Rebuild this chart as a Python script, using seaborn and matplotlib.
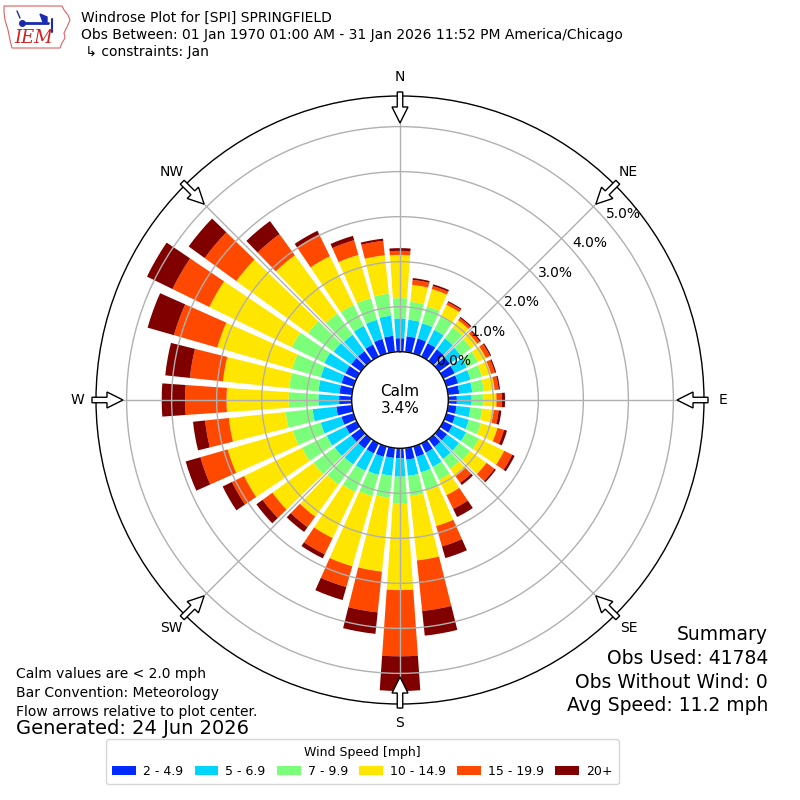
import numpy as np
import matplotlib
matplotlib.use("Agg")
import matplotlib.pyplot as plt
from matplotlib.patches import FancyArrow, Polygon
from matplotlib.lines import Line2D
import seaborn as sns

# %% DATA (percent of observations, read off the windrose)
directions = [0, 10, 20, 30, 40, 50, 60, 70, 80, 90, 100, 110,
              120, 130, 140, 150, 160, 170, 180, 190, 200, 210, 220, 230,
              240, 250, 260, 270, 280, 290, 300, 310, 320, 330, 340, 350]

spd_2_5 = [0.30, 0.35, 0.35, 0.33, 0.32, 0.30, 0.28, 0.27, 0.25, 0.19, 0.19, 0.20,
           0.22, 0.22, 0.22, 0.23, 0.24, 0.26, 0.22, 0.22, 0.24, 0.25, 0.26, 0.27,
           0.27, 0.28, 0.35, 0.28, 0.28, 0.28, 0.28, 0.27, 0.27, 0.30, 0.34, 0.36]
spd_5_7 = [0.44, 0.37, 0.35, 0.33, 0.30, 0.30, 0.30, 0.29, 0.29, 0.33, 0.31, 0.32,
           0.34, 0.33, 0.33, 0.35, 0.36, 0.36, 0.41, 0.40, 0.42, 0.43, 0.44, 0.45,
           0.47, 0.48, 0.53, 0.46, 0.47, 0.48, 0.52, 0.48, 0.45, 0.46, 0.44, 0.45]
spd_7_10 = [0.45, 0.40, 0.39, 0.34, 0.30, 0.28, 0.27, 0.26, 0.26, 0.26, 0.26, 0.28,
            0.32, 0.30, 0.27, 0.32, 0.42, 0.45, 0.59, 0.49, 0.49, 0.52, 0.55, 0.58,
            0.61, 0.64, 0.60, 0.66, 0.65, 0.66, 0.80, 0.70, 0.58, 0.52, 0.50, 0.49]
spd_10_15 = [0.96, 0.38, 0.40, 0.28, 0.20, 0.17, 0.20, 0.21, 0.24, 0.29, 0.26, 0.38,
             0.62, 0.45, 0.20, 0.38, 0.82, 1.44, 1.93, 1.65, 1.62, 1.14, 0.88, 1.13,
             1.43, 1.51, 1.27, 1.38, 1.48, 1.73, 2.04, 1.97, 1.60, 1.20, 1.00, 0.86]
spd_15_20 = [0.09, 0.11, 0.07, 0.06, 0.06, 0.07, 0.10, 0.09, 0.09, 0.12, 0.11, 0.15,
             0.20, 0.22, 0.18, 0.34, 0.47, 1.13, 1.47, 0.91, 0.48, 0.40, 0.29, 0.27,
             0.30, 0.63, 0.53, 0.92, 0.74, 1.00, 0.91, 0.87, 0.58, 0.54, 0.34, 0.32]
spd_20p = [0.06, 0.04, 0.04, 0.03, 0.03, 0.03, 0.03, 0.03, 0.03, 0.07, 0.06, 0.07,
           0.06, 0.04, 0.06, 0.20, 0.27, 0.55, 0.77, 0.48, 0.30, 0.10, 0.13, 0.17,
           0.23, 0.34, 0.27, 0.52, 0.55, 0.61, 0.63, 0.44, 0.36, 0.09, 0.10, 0.05]

bin_labels = ["2 - 4.9", "5 - 6.9", "7 - 9.9", "10 - 14.9", "15 - 19.9", "20+"]
ring_values = [0, 1, 2, 3, 4, 5]
compass = ["N", "NE", "E", "SE", "S", "SW", "W", "NW"]
compass_deg = [0, 45, 90, 135, 180, 225, 270, 315]

calm_pct = 3.4
obs_used = 41784
obs_without_wind = 0
avg_speed = 11.2

# %% STYLE
sns.set_style("white")
plt.rcParams["font.family"] = ["DejaVu Sans"]
plt.rcParams["text.color"] = "black"
bin_colors = sns.color_palette(["#002aff", "#00d4ff", "#7bff7b",
                                "#ffe600", "#ff4800", "#800000"])

fig = plt.figure(figsize=(8, 8), dpi=100)
ax = fig.add_axes([0.12, 0.12, 0.76, 0.76], projection="polar")
ax.set_theta_zero_location("N")
ax.set_theta_direction(-1)
ax.set_rorigin(-1.073)
ax.set_ylim(0, 5.68)
ax.set_axisbelow("line")

# %% stacked bars
theta = np.radians(directions)
series = [spd_2_5, spd_5_7, spd_7_10, spd_10_15, spd_15_20, spd_20p]
bottom = np.zeros(len(directions))
handles = []
for vals, col, lab in zip(series, bin_colors, bin_labels):
    bars = ax.bar(theta, vals, bottom=bottom, width=np.radians(8),
                  color=col, edgecolor="none", label=lab, zorder=1)
    handles.append(bars)
    bottom = bottom + np.array(vals)

ax.set_xticks(np.radians(compass_deg))
ax.set_xticklabels([])
ax.set_yticks(ring_values)
ax.set_yticklabels([])
ax.grid(True, color="#b0b0b0", linewidth=1)
ax.spines["polar"].set_color("black")
ax.spines["polar"].set_linewidth(1)
ax.spines["inner"].set_color("black")
ax.spines["inner"].set_linewidth(1)
ax.tick_params(length=0)

for rv in ring_values:
    ax.text(np.radians(49), rv, "%.1f%%" % rv, ha="left", va="bottom",
            fontsize=10, zorder=5)

ax.text(0.5, 0.5, "Calm\n%.1f%%" % calm_pct, transform=ax.transAxes,
        ha="center", va="center", fontsize=11)

# %% compass labels and flow arrows
for lab, deg in zip(compass, compass_deg):
    s, c = np.sin(np.radians(deg)), np.cos(np.radians(deg))
    fig.text(0.5 + 323 * s / 800, 0.5 + 323 * c / 800, lab,
             ha="center", va="center", fontsize=10)
    arr = FancyArrow(0.5 + 308 * s / 800, 0.5 + 308 * c / 800,
                     -31 * s / 800, -31 * c / 800,
                     width=5.5 / 800, head_width=16 / 800, head_length=16 / 800,
                     length_includes_head=True, transform=fig.transFigure,
                     facecolor="white", edgecolor="black", linewidth=1, zorder=3)
    fig.add_artist(arr)

# %% header with logo (rough IEM mark)
iowa_px = [(4, 6), (62, 6), (64, 10), (68, 15), (70, 20), (67, 27), (64, 33),
           (65, 38), (62, 43), (60, 48), (12, 48), (10, 40), (8, 30), (5, 20),
           (4, 12)]
logo = Polygon([(x / 800, 1 - y / 800) for x, y in iowa_px], closed=True,
               transform=fig.transFigure, facecolor="white",
               edgecolor="#e06060", linewidth=0.8)
fig.add_artist(logo)
fig.add_artist(Line2D([22 / 800, 48 / 800], [1 - 23 / 800, 1 - 23 / 800],
                      color="#1a2ab0", linewidth=2, transform=fig.transFigure))
fig.add_artist(Line2D([22 / 800], [1 - 23 / 800], marker="o", markersize=4,
                      color="#1a2ab0", transform=fig.transFigure))
fig.add_artist(Polygon([(40 / 800, 1 - 14 / 800), (47 / 800, 1 - 17 / 800),
                        (47 / 800, 1 - 22 / 800), (43 / 800, 1 - 22 / 800)],
                       closed=True, facecolor="#1a2ab0", edgecolor="#1a2ab0",
                       transform=fig.transFigure))
fig.add_artist(Line2D([52 / 800, 52 / 800], [1 - 19 / 800, 1 - 32 / 800],
                      color="#1a2ab0", linewidth=1.5, transform=fig.transFigure))
fig.add_artist(Line2D([17 / 800, 20 / 800], [1 - 11 / 800, 1 - 18 / 800],
                      color="#1a2ab0", linewidth=1, transform=fig.transFigure))
fig.text(14 / 800, 1 - 38 / 800, "IEM", color="#d02020", fontsize=13,
         family="serif", style="italic", ha="left", va="center")

fig.text(0.101, 0.986,
         "Windrose Plot for [SPI] SPRINGFIELD\n"
         "Obs Between: 01 Jan 1970 01:00 AM - 31 Jan 2026 11:52 PM America/Chicago\n"
         " \u21b3 constraints: Jan",
         ha="left", va="top", fontsize=10, linespacing=1.25)

# %% footer texts
summary_lines = ["Summary", "Obs Used: %d" % obs_used,
                 "Obs Without Wind: %d" % obs_without_wind,
                 "Avg Speed: %.1f mph" % avg_speed]
for i, line in enumerate(summary_lines):
    fig.text(0.96, 1 - (635 + 23.5 * i) / 800, line, ha="right", va="center",
             fontsize=13.5)

note_lines = ["Calm values are < 2.0 mph", "Bar Convention: Meteorology",
              "Flow arrows relative to plot center."]
for i, line in enumerate(note_lines):
    fig.text(0.02, 1 - (674 + 19 * i) / 800, line, ha="left", va="center",
             fontsize=10)
fig.text(0.02, 1 - 729 / 800, "Generated: 24 Jun 2026", ha="left", va="center",
         fontsize=14)

leg = fig.legend(handles, bin_labels, ncol=6, loc="lower center",
                 bbox_to_anchor=(0.453, 0.012), title="Wind Speed [mph]",
                 fontsize=9, title_fontsize=9, handlelength=1.9,
                 handleheight=0.72, columnspacing=0.9, handletextpad=0.56,
                 frameon=True, fancybox=True, borderpad=0.5)
leg.get_frame().set_edgecolor("#cccccc")

plt.savefig("out.png", dpi=100)
